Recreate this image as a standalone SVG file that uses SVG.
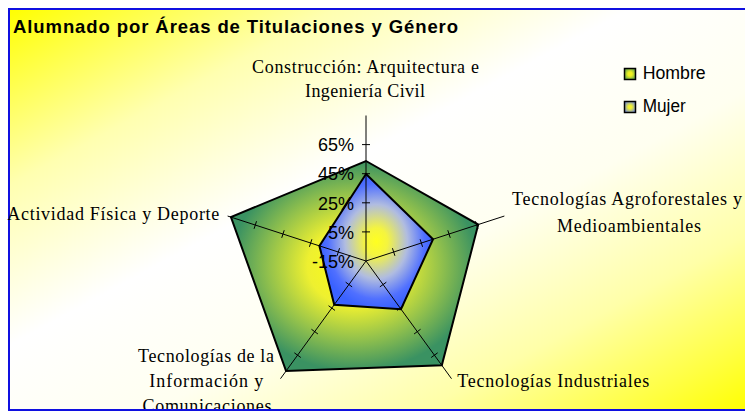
<svg xmlns="http://www.w3.org/2000/svg" width="745" height="412" viewBox="0 0 745 412">
<style>
.ax{stroke:#000;stroke-width:1;fill:none}
.ser{stroke:#000;stroke-width:2;stroke-linejoin:miter}
.cat{font-family:"Liberation Serif","Times New Roman",serif;font-size:18px;fill:#000}
.tl{font-family:"Liberation Sans",Arial,sans-serif;font-size:18px;fill:#000;text-anchor:end}
.lg{font-family:"Liberation Sans",Arial,sans-serif;font-size:17.5px;fill:#000}
</style>
<defs>
<linearGradient id="bg" x1="0" y1="0" x2="1" y2="1">
<stop offset="0" stop-color="#ffff00"/>
<stop offset="0.08" stop-color="#ffff40"/>
<stop offset="0.22" stop-color="#ffffb0"/>
<stop offset="0.42" stop-color="#ffffff"/>
<stop offset="0.6" stop-color="#fffff0"/>
<stop offset="0.78" stop-color="#ffffa8"/>
<stop offset="0.92" stop-color="#ffff40"/>
<stop offset="1" stop-color="#ffff00"/>
</linearGradient>
<radialGradient id="gH" cx="0.5" cy="0.5" r="0.5">
<stop offset="0" stop-color="#ffff10"/>
<stop offset="0.38" stop-color="#eef030"/>
<stop offset="0.7" stop-color="#92c14c"/>
<stop offset="1" stop-color="#3a9262"/>
</radialGradient>
<radialGradient id="gM" cx="0.5" cy="0.5" r="0.5">
<stop offset="0" stop-color="#ffff20"/>
<stop offset="0.2" stop-color="#f4f440"/>
<stop offset="0.55" stop-color="#b0bce0"/>
<stop offset="0.85" stop-color="#5070ff"/>
<stop offset="1" stop-color="#3a62ff"/>
</radialGradient>
<radialGradient id="lgH" cx="0.5" cy="0.5" r="0.6">
<stop offset="0.3" stop-color="#f0f020"/>
<stop offset="1" stop-color="#5aa050"/>
</radialGradient>
<radialGradient id="lgM" cx="0.5" cy="0.5" r="0.6">
<stop offset="0.25" stop-color="#f0f030"/>
<stop offset="1" stop-color="#7088e0"/>
</radialGradient>
<clipPath id="box"><rect x="9" y="9" width="740" height="400"/></clipPath>
</defs>

<rect id="background" x="9" y="9" width="740" height="401" fill="url(#bg)" stroke="#1010e0" stroke-width="2"/>

<text id="title" x="13" y="32.5" font-family="'Liberation Sans',Arial,sans-serif" font-size="18.5" font-weight="bold" textLength="445" lengthAdjust="spacing">Alumnado por Áreas de Titulaciones y Género</text>

<g id="series-hombre">
<polygon class="ser" fill="url(#gH)" points="366,161 478.23,224.54 441.83,365.36 286.06,371.02 230.94,217.12"/>
</g>
<g id="series-mujer">
<polygon class="ser" fill="url(#gM)" points="366,174 433.05,239.22 400.97,309.14 334.26,304.69 319.4,245.86"/>
</g>

<g id="axes" class="ax">
<line x1="366" y1="261" x2="366" y2="115.5"/>
<line x1="366" y1="261" x2="504.39" y2="216.04"/>
<line x1="366" y1="261" x2="451.52" y2="378.71"/>
<line x1="366" y1="261" x2="280.48" y2="378.71"/>
<line x1="366" y1="261" x2="227.61" y2="216.04"/>
<path d="M362,231.9H370M362,202.8H370M362,173.7H370M362,144.6H370"/>
<path d="M392.44,248.2L394.91,255.82M420.12,239.22L422.59,246.83M447.79,230.22L450.27,237.83M475.47,221.23L477.94,228.84"/>
<path d="M379.87,286.89L386.34,282.19M396.97,310.43L403.44,305.73M414.08,333.98L420.55,329.28M431.18,357.52L437.65,352.82"/>
<path d="M345.66,282.19L352.13,286.89M328.56,305.73L335.03,310.43M311.45,329.28L317.92,333.98M294.35,352.82L300.82,357.52"/>
<path d="M339.56,248.2L337.09,255.82M311.89,239.22L309.41,246.83M284.21,230.22L281.73,237.83M256.53,221.23L254.06,228.84"/>
</g>

<g id="tick-labels">
<text class="tl" x="354" y="151">65%</text>
<text class="tl" x="354" y="180">45%</text>
<text class="tl" x="354" y="209.5">25%</text>
<text class="tl" x="354" y="239">5%</text>
<text class="tl" x="354" y="267.5">-15%</text>
</g>

<g id="cat-construccion" class="cat" text-anchor="middle">
<text x="365.5" y="73.3" textLength="227" lengthAdjust="spacing">Construcción: Arquitectura e</text>
<text x="365" y="96.7" textLength="120" lengthAdjust="spacing">Ingeniería Civil</text>
</g>
<g id="cat-agroforestales" class="cat" text-anchor="middle">
<text x="627" y="205" textLength="230" lengthAdjust="spacing">Tecnologías Agroforestales y</text>
<text x="629" y="232" textLength="144" lengthAdjust="spacing">Medioambientales</text>
</g>
<g id="cat-industriales" class="cat">
<text x="457.3" y="387.3" textLength="192" lengthAdjust="spacing">Tecnologías Industriales</text>
</g>
<g id="cat-tic" class="cat" text-anchor="middle" clip-path="url(#box)">
<text x="206" y="362" textLength="136" lengthAdjust="spacing">Tecnologías de la</text>
<text x="206.3" y="387" textLength="114" lengthAdjust="spacing">Información y</text>
<text x="207" y="412" textLength="129" lengthAdjust="spacing">Comunicaciones</text>
</g>
<g id="cat-deporte" class="cat">
<text x="7.3" y="220" textLength="212" lengthAdjust="spacing">Actividad Física y Deporte</text>
</g>

<g id="legend">
<rect x="624.5" y="68.5" width="11" height="11" fill="url(#lgH)" stroke="#000" stroke-width="1.5"/>
<text class="lg" x="642.7" y="79.3" textLength="63" lengthAdjust="spacingAndGlyphs">Hombre</text>
<rect x="624.5" y="101.5" width="11" height="11" fill="url(#lgM)" stroke="#000" stroke-width="1.5"/>
<text class="lg" x="642.7" y="111.5" textLength="43" lengthAdjust="spacingAndGlyphs">Mujer</text>
</g>
</svg>
